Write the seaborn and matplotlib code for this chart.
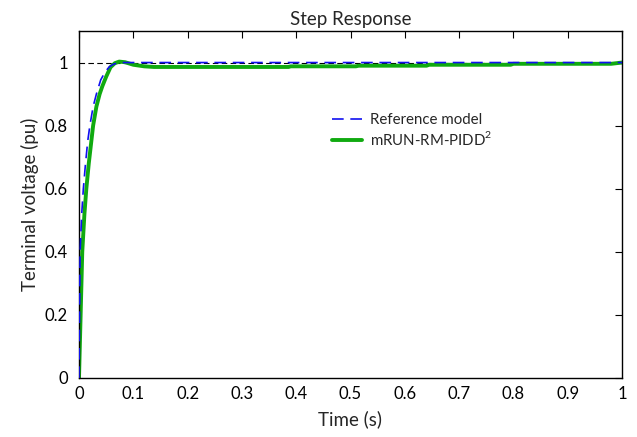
import matplotlib
matplotlib.use("Agg")
import matplotlib.pyplot as plt
import seaborn as sns
import pandas as pd
from matplotlib.ticker import FormatStrFormatter

# ---- data ----
t_ref = [0.0, 0.001, 0.002, 0.005, 0.008, 0.012, 0.016, 0.020, 0.026, 0.032, 0.040,
         0.048, 0.056, 0.064, 0.072, 0.080, 0.10, 0.20, 0.40, 0.60, 0.80, 1.0]
v_ref = [0.0, 0.20, 0.40, 0.52, 0.60, 0.68, 0.75, 0.80, 0.86, 0.90, 0.945,
         0.970, 0.987, 0.995, 0.999, 1.0, 1.0, 1.0, 1.0, 1.0, 1.0, 1.0]

t_ctl = [0.0, 0.003, 0.006, 0.010, 0.0135, 0.018, 0.022, 0.026, 0.032, 0.038, 0.043,
         0.050, 0.058, 0.066, 0.074, 0.085, 0.100, 0.120, 0.138, 0.386, 0.390,
         0.510, 0.515, 0.640, 0.645, 0.795, 0.80, 0.98, 1.0]
v_ctl = [0.0, 0.20, 0.40, 0.52, 0.60, 0.68, 0.74, 0.80, 0.86, 0.90, 0.925,
         0.955, 0.985, 0.998, 1.003, 1.001, 0.993, 0.988, 0.986, 0.986, 0.988,
         0.988, 0.990, 0.990, 0.993, 0.993, 0.996, 0.996, 1.0]

xticks = [0, 0.1, 0.2, 0.3, 0.4, 0.5, 0.6, 0.7, 0.8, 0.9, 1]
yticks = [0, 0.2, 0.4, 0.6, 0.8, 1]

sns.set_style("white")
plt.rcParams["font.family"] = ["Lato", "DejaVu Sans"]
plt.rcParams["mathtext.fontset"] = "custom"
plt.rcParams["mathtext.rm"] = "Lato"

fig = plt.figure(figsize=(6.37, 4.37), dpi=100)
ax = fig.add_axes([79/637, 1 - 378/437, (622-79)/637, (378-31)/437])

df_ref = pd.DataFrame({"t": t_ref, "v": v_ref})
df_ctl = pd.DataFrame({"t": t_ctl, "v": v_ctl})

ax.axhline(1.0, color="black", lw=0.8, ls=(0, (5, 3)), zorder=1)
sns.lineplot(data=df_ref, x="t", y="v", ax=ax, color="#1010f0", lw=1.2,
             label="Reference model", zorder=3)
ax.lines[-1].set_linestyle((0, (7, 4)))
sns.lineplot(data=df_ctl, x="t", y="v", ax=ax, color="#10aa10", lw=2.8,
             label="mRUN-RM-PIDD$^2$", zorder=2)

ax.set_xlim(0, 1)
ax.set_ylim(0, 1.1)
ax.set_xticks(xticks)
ax.set_yticks(yticks)
ax.xaxis.set_major_formatter(FormatStrFormatter("%g"))
ax.yaxis.set_major_formatter(FormatStrFormatter("%g"))
ax.tick_params(direction="in", length=5, width=0.8, top=True, right=True,
               labelsize=12, colors="black")
ax.tick_params(axis="x", pad=6)
ax.tick_params(axis="y", pad=8)
for s in ax.spines.values():
    s.set_color("black")
    s.set_linewidth(1.0)

ax.set_xlabel("Time (s)", fontsize=13.5, labelpad=6)
ax.set_ylabel("Terminal voltage (pu)", fontsize=13.5, labelpad=4)
ax.set_title("Step Response", fontsize=13.5, pad=4)

leg = ax.legend(loc="upper left", bbox_to_anchor=(0.455, 0.78), frameon=False,
                fontsize=10.8, handlelength=2.0, handletextpad=0.5,
                borderaxespad=0, labelspacing=0.2)

fig.savefig("out.png", dpi=100)
